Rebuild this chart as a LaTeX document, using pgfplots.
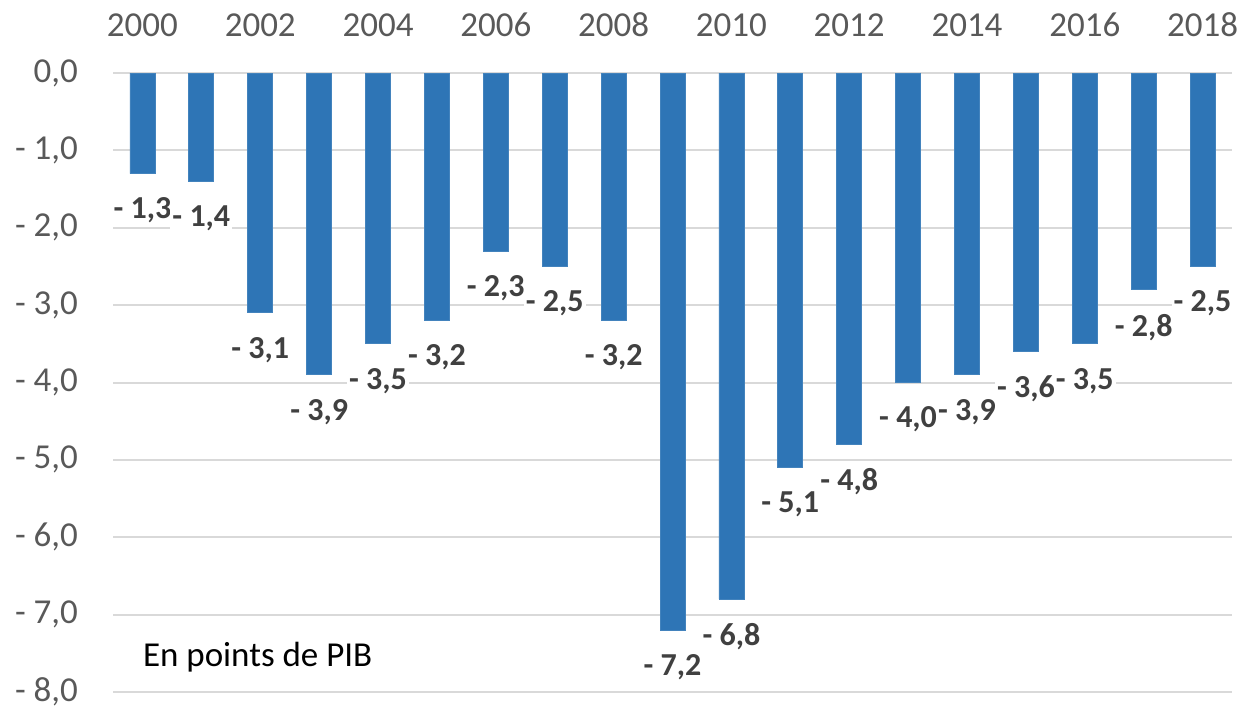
\documentclass[border=0pt]{standalone}
\usepackage{pgfplots}
\usepackage{pgfplotstable}
\pgfplotsset{compat=1.18}
\usepackage{fontspec}
\setmainfont{Carlito}

\definecolor{barblue}{HTML}{2E75B6}
\definecolor{ticktext}{HTML}{595959}
\definecolor{labeltext}{HTML}{404040}
\definecolor{gridgray}{HTML}{D9D9D9}

% public balance, points of GDP
\pgfplotstableread{
x y
0 -1.3
1 -1.4
2 -3.1
3 -3.9
4 -3.5
5 -3.2
6 -2.3
7 -2.5
8 -3.2
9 -7.2
10 -6.8
11 -5.1
12 -4.8
13 -4.0
14 -3.9
15 -3.6
16 -3.5
17 -2.8
18 -2.5
}\deficit

\begin{document}
\begin{tikzpicture}
\useasboundingbox (0,0) rectangle (622.5pt,354pt);
\begin{axis}[
    at={(56.5pt,8pt)}, anchor=south west,
    scale only axis,
    width=559.5pt, height=309.5pt,
    ybar, bar width=12.5pt,
    xmin=-0.5, xmax=18.5,
    ymin=-8, ymax=0,
    enlargelimits=false,
    clip=false,
    axis line style={draw=none},
    major tick length=0pt,
    xtick={0,2,...,18},
    xticklabels={2000,2002,2004,2006,2008,2010,2012,2014,2016,2018},
    xticklabel pos=upper,
    xticklabel style={font=\fontsize{17.5}{20}\selectfont, text=ticktext, anchor=base, yshift=18.5pt},
    ytick={-8,-7,...,0},
    yticklabels={{- 8,0},{- 7,0},{- 6,0},{- 5,0},{- 4,0},{- 3,0},{- 2,0},{- 1,0},{0,0}},
    yticklabel style={font=\fontsize{17.5}{20}\selectfont, text=ticktext, anchor=east, xshift=-14pt},
    ymajorgrids,
    grid style={gridgray, line width=1pt},
    point meta={-\thisrow{y}},
    nodes near coords={- \pgfmathprintnumber[fixed,fixed zerofill,precision=1,use comma,assume math mode=true]{\pgfplotspointmeta}},
    every node near coord/.append style={font=\fontsize{16}{18}\selectfont\bfseries, text=labeltext, fill=white, inner sep=1pt, anchor=north, yshift=-11pt},
]
\addplot[fill=barblue, draw=barblue!90!white] table[x=x, y=y] {\deficit};
\node[anchor=west, font=\fontsize{17.5}{20}\selectfont, text=black] at (axis cs:-0.11,-7.55) {En points de PIB};
\end{axis}
\end{tikzpicture}
\end{document}
